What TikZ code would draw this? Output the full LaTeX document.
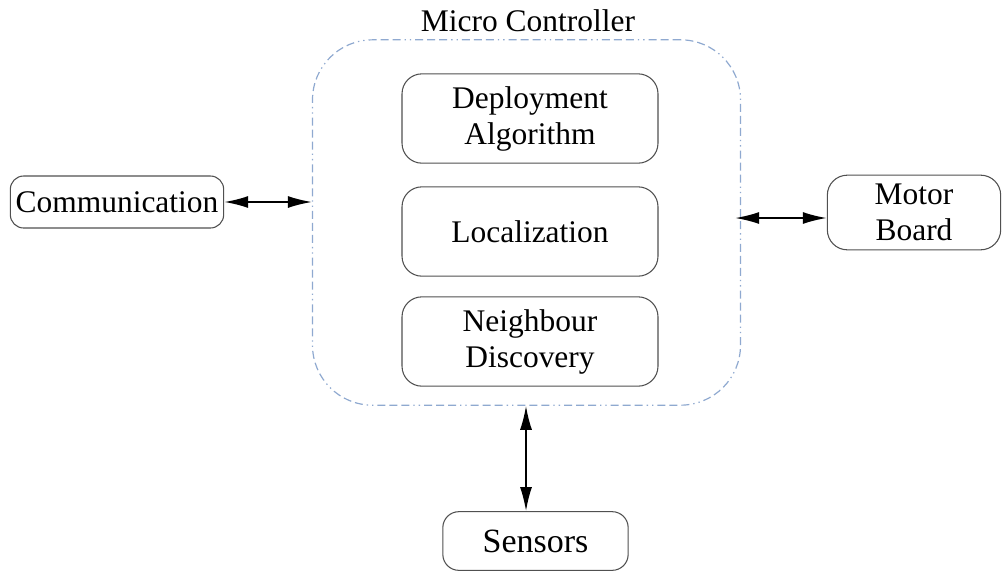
\documentclass[tikz,border=0pt]{standalone}
\usepackage{fontspec}
\setmainfont{Liberation Serif}
\usetikzlibrary{arrows.meta}
\definecolor{dashblue}{HTML}{8FA9D0}
\definecolor{boxgray}{HTML}{505050}
\begin{document}
\begin{tikzpicture}[x=0.75pt,y=-0.75pt,
  blk/.style={draw=boxgray, line width=0.8pt, rounded corners=15pt, align=center, inner sep=0pt, font=\fontsize{23.6}{27}\selectfont},
  conn/.style={line width=1.3pt, {Latex[length=18pt,width=9pt]}-{Latex[length=18pt,width=9pt]}}]
\useasboundingbox (0,0) rectangle (1002,572);
\node[draw=dashblue, line width=0.9pt, dash pattern=on 6pt off 3pt on 6pt off 3pt on 6pt off 3pt on 1pt off 3pt on 1pt off 3pt, rounded corners=45pt, minimum width=321pt, minimum height=274pt] (mc) at (526.5,222.5) {};
\node[font=\fontsize{23.6}{27}\selectfont] (mclabel) at (528,21) {Micro Controller};
\node[blk, minimum width=192pt, minimum height=67pt] (dep) at (530,118.5) {Deployment\\Algorithm};
\node[blk, minimum width=192pt, minimum height=67pt] (loc) at (530,231.5) {Localization};
\node[blk, minimum width=192pt, minimum height=67pt] (nd) at (530,341.5) {Neighbour\\Discovery};
\node[blk, rounded corners=10pt, minimum width=160pt, minimum height=39pt] (comm) at (117,202) {Communication};
\node[blk, minimum width=130pt, minimum height=56pt] (motor) at (914,212.5) {Motor\\Board};
\node[blk, rounded corners=12pt, minimum width=139pt, minimum height=44pt, font=\fontsize{25.5}{29}\selectfont] (sens) at (535.5,541) {Sensors};
\coordinate (mcw) at (mc.west |- comm.east);
\coordinate (mce) at ([xshift=-4.5pt]mc.east |- 0,218);
\coordinate (mcs) at (mc.south -| 526,0);
\draw[conn] (comm.east) -- (mcw);
\draw[conn] (mce) -- (motor.west |- mce);
\draw[conn] (mcs) -- (sens.north -| mcs);
\end{tikzpicture}
\end{document}
